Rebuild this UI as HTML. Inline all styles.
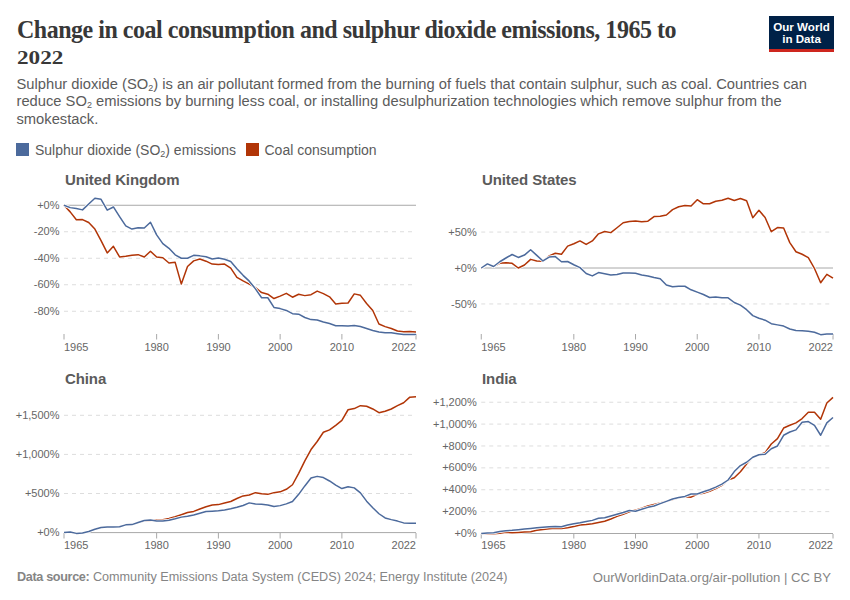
<!DOCTYPE html>
<html><head><meta charset="utf-8">
<style>
html,body{margin:0;padding:0;background:#fff;width:850px;height:600px;overflow:hidden}
body{position:relative;font-family:"Liberation Sans",sans-serif}
.title{position:absolute;left:17px;top:17px;font-family:"Liberation Serif",serif;font-weight:bold;font-size:25.5px;line-height:25px;color:#383838;letter-spacing:-0.5px;margin:0;width:800px;transform:scaleX(0.94);transform-origin:0 0}
.sub{position:absolute;left:16.5px;top:75.5px;font-size:14.72px;line-height:17.9px;color:#5b5b5b;width:820px}
.sub sub{font-size:9px;vertical-align:-2px;line-height:0}
.leg{position:absolute;top:142px;left:0;font-size:14px;color:#5b5b5b;line-height:16px}
.sw{position:absolute;width:13.3px;height:13.3px;top:1px}
.lt{position:absolute;top:0;white-space:nowrap}
.logo{position:absolute;left:769px;top:16px;width:65px;height:33px;background:#002147;border-bottom:3px solid #ce261e;color:#fff;font-weight:bold;font-size:11.6px;line-height:12px;text-align:center}
.foot{position:absolute;top:570px;font-size:12.55px;color:#858585;white-space:nowrap;line-height:15px}
svg{position:absolute;left:0;top:0}
.ct{font-family:"Liberation Sans",sans-serif;font-weight:bold;font-size:15px;fill:#5b5b5b;letter-spacing:-0.1px}
.yl{font-family:"Liberation Sans",sans-serif;font-size:11px;fill:#666;text-anchor:end}
.xl{font-family:"Liberation Sans",sans-serif;font-size:11px;fill:#666}
.gl{stroke:#ddd;stroke-width:1;stroke-dasharray:4 4}
.zl{stroke:#a8a8a8;stroke-width:1}
.tk{stroke:#a8a8a8;stroke-width:1}
.ln{fill:none;stroke-width:1.5;stroke-linejoin:round;stroke-linecap:butt}
.halo{stroke-width:3}
</style></head><body>
<svg width="850" height="600" viewBox="0 0 850 600">
<text x="65" y="184.8" class="ct">United Kingdom</text>
<line x1="64" x2="416" y1="205.25" y2="205.25" class="zl"/>
<text x="59.5" y="208.85" class="yl">+0%</text>
<line x1="64" x2="416" y1="231.75" y2="231.75" class="gl"/>
<text x="59.5" y="235.35" class="yl">-20%</text>
<line x1="64" x2="416" y1="258.25" y2="258.25" class="gl"/>
<text x="59.5" y="261.85" class="yl">-40%</text>
<line x1="64" x2="416" y1="284.75" y2="284.75" class="gl"/>
<text x="59.5" y="288.35" class="yl">-60%</text>
<line x1="64" x2="416" y1="311.25" y2="311.25" class="gl"/>
<text x="59.5" y="314.85" class="yl">-80%</text>
<line x1="64.00" x2="64.00" y1="334" y2="339.5" class="tk"/>
<text x="64.00" y="350.5" class="xl" text-anchor="start">1965</text>
<line x1="156.63" x2="156.63" y1="334" y2="339.5" class="tk"/>
<text x="156.63" y="350.5" class="xl" text-anchor="middle">1980</text>
<line x1="218.39" x2="218.39" y1="334" y2="339.5" class="tk"/>
<text x="218.39" y="350.5" class="xl" text-anchor="middle">1990</text>
<line x1="280.14" x2="280.14" y1="334" y2="339.5" class="tk"/>
<text x="280.14" y="350.5" class="xl" text-anchor="middle">2000</text>
<line x1="341.89" x2="341.89" y1="334" y2="339.5" class="tk"/>
<text x="341.89" y="350.5" class="xl" text-anchor="middle">2010</text>
<line x1="416.00" x2="416.00" y1="334" y2="339.5" class="tk"/>
<text x="416.00" y="350.5" class="xl" text-anchor="end">2022</text>
<polyline points="64.00,205.25 70.18,211.88 76.35,219.82 82.53,219.56 88.70,222.47 94.88,229.10 101.05,240.63 107.23,252.95 113.40,246.32 119.58,256.93 125.75,256.26 131.93,255.20 138.11,254.67 144.28,257.06 150.46,251.23 156.63,257.06 162.81,257.72 168.98,263.02 175.16,262.36 181.33,284.09 187.51,266.47 193.68,260.90 199.86,259.05 206.04,261.17 212.21,264.08 218.39,264.61 224.56,264.08 230.74,268.19 236.91,277.33 243.09,280.91 249.26,284.09 255.44,287.67 261.61,292.57 267.79,294.16 273.96,298.53 280.14,296.14 286.32,293.36 292.49,297.20 298.67,294.29 304.84,295.62 311.02,294.69 317.19,291.11 323.37,293.63 329.54,296.81 335.72,303.96 341.89,303.17 348.07,303.03 354.25,293.89 360.42,295.35 366.60,303.43 372.77,310.45 378.95,323.97 385.12,326.62 391.30,328.48 397.47,330.99 403.65,331.79 409.82,331.52 416.00,331.92" stroke="#fff" class="ln halo"/>
<polyline points="64.00,205.25 70.18,211.88 76.35,219.82 82.53,219.56 88.70,222.47 94.88,229.10 101.05,240.63 107.23,252.95 113.40,246.32 119.58,256.93 125.75,256.26 131.93,255.20 138.11,254.67 144.28,257.06 150.46,251.23 156.63,257.06 162.81,257.72 168.98,263.02 175.16,262.36 181.33,284.09 187.51,266.47 193.68,260.90 199.86,259.05 206.04,261.17 212.21,264.08 218.39,264.61 224.56,264.08 230.74,268.19 236.91,277.33 243.09,280.91 249.26,284.09 255.44,287.67 261.61,292.57 267.79,294.16 273.96,298.53 280.14,296.14 286.32,293.36 292.49,297.20 298.67,294.29 304.84,295.62 311.02,294.69 317.19,291.11 323.37,293.63 329.54,296.81 335.72,303.96 341.89,303.17 348.07,303.03 354.25,293.89 360.42,295.35 366.60,303.43 372.77,310.45 378.95,323.97 385.12,326.62 391.30,328.48 397.47,330.99 403.65,331.79 409.82,331.52 416.00,331.92" stroke="#b13507" class="ln"/>
<polyline points="64.00,205.25 70.18,207.63 76.35,208.56 82.53,209.89 88.70,203.93 94.88,198.23 101.05,199.29 107.23,210.15 113.40,206.97 119.58,216.65 125.75,225.92 131.93,229.10 138.11,227.78 144.28,228.04 150.46,222.21 156.63,234.93 162.81,243.68 168.98,248.31 175.16,254.81 181.33,258.25 187.51,258.25 193.68,255.33 199.86,255.87 206.04,256.79 212.21,259.05 218.39,257.99 224.56,259.31 230.74,261.56 236.91,268.85 243.09,275.34 249.26,281.17 255.44,288.86 261.61,297.74 267.79,297.74 273.96,307.41 280.14,308.60 286.32,310.45 292.49,313.63 298.67,314.17 304.84,317.48 311.02,319.60 317.19,320.00 323.37,321.98 329.54,323.57 335.72,325.69 341.89,325.69 348.07,326.09 354.25,325.56 360.42,326.49 366.60,328.48 372.77,330.46 378.95,331.92 385.12,332.85 391.30,332.72 397.47,333.64 403.65,334.57 409.82,334.57 416.00,334.57" stroke="#fff" class="ln halo"/>
<polyline points="64.00,205.25 70.18,207.63 76.35,208.56 82.53,209.89 88.70,203.93 94.88,198.23 101.05,199.29 107.23,210.15 113.40,206.97 119.58,216.65 125.75,225.92 131.93,229.10 138.11,227.78 144.28,228.04 150.46,222.21 156.63,234.93 162.81,243.68 168.98,248.31 175.16,254.81 181.33,258.25 187.51,258.25 193.68,255.33 199.86,255.87 206.04,256.79 212.21,259.05 218.39,257.99 224.56,259.31 230.74,261.56 236.91,268.85 243.09,275.34 249.26,281.17 255.44,288.86 261.61,297.74 267.79,297.74 273.96,307.41 280.14,308.60 286.32,310.45 292.49,313.63 298.67,314.17 304.84,317.48 311.02,319.60 317.19,320.00 323.37,321.98 329.54,323.57 335.72,325.69 341.89,325.69 348.07,326.09 354.25,325.56 360.42,326.49 366.60,328.48 372.77,330.46 378.95,331.92 385.12,332.85 391.30,332.72 397.47,333.64 403.65,334.57 409.82,334.57 416.00,334.57" stroke="#4c6a9c" class="ln"/>
<text x="482" y="184.8" class="ct">United States</text>
<line x1="481.25" x2="833" y1="232.05" y2="232.05" class="gl"/>
<text x="476.75" y="235.65" class="yl">+50%</text>
<line x1="481.25" x2="833" y1="268.00" y2="268.00" class="zl"/>
<text x="476.75" y="271.60" class="yl">+0%</text>
<line x1="481.25" x2="833" y1="303.95" y2="303.95" class="gl"/>
<text x="476.75" y="307.55" class="yl">-50%</text>
<line x1="481.25" x2="481.25" y1="334" y2="339.5" class="tk"/>
<text x="481.25" y="350.5" class="xl" text-anchor="start">1965</text>
<line x1="573.82" x2="573.82" y1="334" y2="339.5" class="tk"/>
<text x="573.82" y="350.5" class="xl" text-anchor="middle">1980</text>
<line x1="635.53" x2="635.53" y1="334" y2="339.5" class="tk"/>
<text x="635.53" y="350.5" class="xl" text-anchor="middle">1990</text>
<line x1="697.24" x2="697.24" y1="334" y2="339.5" class="tk"/>
<text x="697.24" y="350.5" class="xl" text-anchor="middle">2000</text>
<line x1="758.95" x2="758.95" y1="334" y2="339.5" class="tk"/>
<text x="758.95" y="350.5" class="xl" text-anchor="middle">2010</text>
<line x1="833.00" x2="833.00" y1="334" y2="339.5" class="tk"/>
<text x="833.00" y="350.5" class="xl" text-anchor="end">2022</text>
<polyline points="481.25,268.00 487.42,263.90 493.59,266.49 499.76,263.33 505.93,262.68 512.11,263.33 518.28,268.00 524.45,265.05 530.62,259.37 536.79,260.95 542.96,261.31 549.13,255.85 555.30,253.26 561.47,254.27 567.64,246.14 573.82,243.77 579.99,240.89 586.16,244.42 592.33,240.89 598.50,233.85 604.67,231.47 610.84,232.63 617.01,227.74 623.18,222.77 629.36,221.55 635.53,220.91 641.70,221.84 647.87,221.19 654.04,216.59 660.21,216.16 666.38,215.01 672.55,209.69 678.72,206.74 684.89,205.59 691.07,205.95 697.24,199.69 703.41,203.79 709.58,203.79 715.75,201.20 721.92,200.27 728.09,198.26 734.26,200.49 740.43,198.54 746.61,200.77 752.78,217.67 758.95,210.34 765.12,217.53 771.29,231.69 777.46,227.52 783.63,228.02 789.80,242.62 795.97,251.75 802.14,254.27 808.32,257.65 814.49,268.50 820.66,282.74 826.83,274.33 833.00,278.21" stroke="#fff" class="ln halo"/>
<polyline points="481.25,268.00 487.42,263.90 493.59,266.49 499.76,263.33 505.93,262.68 512.11,263.33 518.28,268.00 524.45,265.05 530.62,259.37 536.79,260.95 542.96,261.31 549.13,255.85 555.30,253.26 561.47,254.27 567.64,246.14 573.82,243.77 579.99,240.89 586.16,244.42 592.33,240.89 598.50,233.85 604.67,231.47 610.84,232.63 617.01,227.74 623.18,222.77 629.36,221.55 635.53,220.91 641.70,221.84 647.87,221.19 654.04,216.59 660.21,216.16 666.38,215.01 672.55,209.69 678.72,206.74 684.89,205.59 691.07,205.95 697.24,199.69 703.41,203.79 709.58,203.79 715.75,201.20 721.92,200.27 728.09,198.26 734.26,200.49 740.43,198.54 746.61,200.77 752.78,217.67 758.95,210.34 765.12,217.53 771.29,231.69 777.46,227.52 783.63,228.02 789.80,242.62 795.97,251.75 802.14,254.27 808.32,257.65 814.49,268.50 820.66,282.74 826.83,274.33 833.00,278.21" stroke="#b13507" class="ln"/>
<polyline points="481.25,268.00 487.42,263.90 493.59,266.49 499.76,261.74 505.93,258.01 512.11,254.48 518.28,257.43 524.45,255.06 530.62,249.74 536.79,255.42 542.96,260.95 549.13,257.07 555.30,256.57 561.47,261.74 567.64,261.53 573.82,264.76 579.99,267.64 586.16,273.54 592.33,275.91 598.50,272.60 604.67,273.75 610.84,274.97 617.01,274.47 623.18,272.96 629.36,272.96 635.53,273.32 641.70,274.97 647.87,275.91 654.04,277.49 660.21,278.71 666.38,284.97 672.55,286.84 678.72,286.26 684.89,286.26 691.07,289.79 697.24,292.16 703.41,294.53 709.58,297.48 715.75,296.90 721.92,297.84 728.09,297.84 734.26,302.51 740.43,305.10 746.61,309.70 752.78,315.60 758.95,318.19 765.12,320.20 771.29,323.72 777.46,324.87 783.63,326.10 789.80,329.04 795.97,330.41 802.14,330.77 808.32,331.34 814.49,332.28 820.66,334.65 826.83,334.08 833.00,334.08" stroke="#fff" class="ln halo"/>
<polyline points="481.25,268.00 487.42,263.90 493.59,266.49 499.76,261.74 505.93,258.01 512.11,254.48 518.28,257.43 524.45,255.06 530.62,249.74 536.79,255.42 542.96,260.95 549.13,257.07 555.30,256.57 561.47,261.74 567.64,261.53 573.82,264.76 579.99,267.64 586.16,273.54 592.33,275.91 598.50,272.60 604.67,273.75 610.84,274.97 617.01,274.47 623.18,272.96 629.36,272.96 635.53,273.32 641.70,274.97 647.87,275.91 654.04,277.49 660.21,278.71 666.38,284.97 672.55,286.84 678.72,286.26 684.89,286.26 691.07,289.79 697.24,292.16 703.41,294.53 709.58,297.48 715.75,296.90 721.92,297.84 728.09,297.84 734.26,302.51 740.43,305.10 746.61,309.70 752.78,315.60 758.95,318.19 765.12,320.20 771.29,323.72 777.46,324.87 783.63,326.10 789.80,329.04 795.97,330.41 802.14,330.77 808.32,331.34 814.49,332.28 820.66,334.65 826.83,334.08 833.00,334.08" stroke="#4c6a9c" class="ln"/>
<text x="65" y="383.6" class="ct">China</text>
<line x1="64" x2="416" y1="532.60" y2="532.60" class="zl"/>
<text x="59.5" y="536.20" class="yl">+0%</text>
<line x1="64" x2="416" y1="493.50" y2="493.50" class="gl"/>
<text x="59.5" y="497.10" class="yl">+500%</text>
<line x1="64" x2="416" y1="454.40" y2="454.40" class="gl"/>
<text x="59.5" y="458.00" class="yl">+1,000%</text>
<line x1="64" x2="416" y1="415.30" y2="415.30" class="gl"/>
<text x="59.5" y="418.90" class="yl">+1,500%</text>
<line x1="64.00" x2="64.00" y1="533" y2="538.5" class="tk"/>
<text x="64.00" y="549.3" class="xl" text-anchor="start">1965</text>
<line x1="156.63" x2="156.63" y1="533" y2="538.5" class="tk"/>
<text x="156.63" y="549.3" class="xl" text-anchor="middle">1980</text>
<line x1="218.39" x2="218.39" y1="533" y2="538.5" class="tk"/>
<text x="218.39" y="549.3" class="xl" text-anchor="middle">1990</text>
<line x1="280.14" x2="280.14" y1="533" y2="538.5" class="tk"/>
<text x="280.14" y="549.3" class="xl" text-anchor="middle">2000</text>
<line x1="341.89" x2="341.89" y1="533" y2="538.5" class="tk"/>
<text x="341.89" y="549.3" class="xl" text-anchor="middle">2010</text>
<line x1="416.00" x2="416.00" y1="533" y2="538.5" class="tk"/>
<text x="416.00" y="549.3" class="xl" text-anchor="end">2022</text>
<polyline points="64.00,532.60 70.18,531.90 76.35,533.38 82.53,533.07 88.70,531.43 94.88,529.32 101.05,527.52 107.23,526.97 113.40,526.97 119.58,526.74 125.75,524.86 131.93,524.62 138.11,522.51 144.28,521.03 150.46,520.48 156.63,519.93 162.81,519.70 168.98,518.52 175.16,516.73 181.33,514.69 187.51,512.58 193.68,511.41 199.86,509.06 206.04,506.72 212.21,505.00 218.39,504.60 224.56,502.96 230.74,501.48 236.91,498.50 243.09,495.92 249.26,495.06 255.44,492.64 261.61,493.81 267.79,494.36 273.96,492.64 280.14,491.86 286.32,489.28 292.49,484.74 298.67,473.32 304.84,460.81 311.02,449.55 317.19,441.50 323.37,432.27 329.54,429.85 335.72,425.31 341.89,420.38 348.07,409.75 354.25,408.57 360.42,405.68 366.60,406.23 372.77,408.97 378.95,412.72 385.12,411.31 391.30,408.97 397.47,405.68 403.65,402.71 409.82,397.16 416.00,396.84" stroke="#fff" class="ln halo"/>
<polyline points="64.00,532.60 70.18,531.90 76.35,533.38 82.53,533.07 88.70,531.43 94.88,529.32 101.05,527.52 107.23,526.97 113.40,526.97 119.58,526.74 125.75,524.86 131.93,524.62 138.11,522.51 144.28,521.03 150.46,520.48 156.63,519.93 162.81,519.70 168.98,518.52 175.16,516.73 181.33,514.69 187.51,512.58 193.68,511.41 199.86,509.06 206.04,506.72 212.21,505.00 218.39,504.60 224.56,502.96 230.74,501.48 236.91,498.50 243.09,495.92 249.26,495.06 255.44,492.64 261.61,493.81 267.79,494.36 273.96,492.64 280.14,491.86 286.32,489.28 292.49,484.74 298.67,473.32 304.84,460.81 311.02,449.55 317.19,441.50 323.37,432.27 329.54,429.85 335.72,425.31 341.89,420.38 348.07,409.75 354.25,408.57 360.42,405.68 366.60,406.23 372.77,408.97 378.95,412.72 385.12,411.31 391.30,408.97 397.47,405.68 403.65,402.71 409.82,397.16 416.00,396.84" stroke="#b13507" class="ln"/>
<polyline points="64.00,532.60 70.18,531.90 76.35,533.38 82.53,533.07 88.70,531.43 94.88,529.32 101.05,527.52 107.23,526.97 113.40,526.97 119.58,526.74 125.75,524.86 131.93,524.62 138.11,522.51 144.28,520.48 150.46,519.93 156.63,521.10 162.81,521.10 168.98,520.24 175.16,518.76 181.33,517.12 187.51,516.18 193.68,514.93 199.86,513.21 206.04,511.41 212.21,511.17 218.39,510.86 224.56,510.00 230.74,508.83 236.91,507.34 243.09,505.54 249.26,502.88 255.44,503.90 261.61,504.37 267.79,504.92 273.96,506.56 280.14,505.62 286.32,503.90 292.49,501.55 298.67,494.36 304.84,485.91 311.02,478.09 317.19,476.37 323.37,477.55 329.54,480.99 335.72,485.05 341.89,488.57 348.07,486.70 354.25,487.87 360.42,492.87 366.60,501.16 372.77,507.81 378.95,513.75 385.12,517.98 391.30,519.62 397.47,521.10 403.65,522.90 409.82,523.14 416.00,523.14" stroke="#fff" class="ln halo"/>
<polyline points="64.00,532.60 70.18,531.90 76.35,533.38 82.53,533.07 88.70,531.43 94.88,529.32 101.05,527.52 107.23,526.97 113.40,526.97 119.58,526.74 125.75,524.86 131.93,524.62 138.11,522.51 144.28,520.48 150.46,519.93 156.63,521.10 162.81,521.10 168.98,520.24 175.16,518.76 181.33,517.12 187.51,516.18 193.68,514.93 199.86,513.21 206.04,511.41 212.21,511.17 218.39,510.86 224.56,510.00 230.74,508.83 236.91,507.34 243.09,505.54 249.26,502.88 255.44,503.90 261.61,504.37 267.79,504.92 273.96,506.56 280.14,505.62 286.32,503.90 292.49,501.55 298.67,494.36 304.84,485.91 311.02,478.09 317.19,476.37 323.37,477.55 329.54,480.99 335.72,485.05 341.89,488.57 348.07,486.70 354.25,487.87 360.42,492.87 366.60,501.16 372.77,507.81 378.95,513.75 385.12,517.98 391.30,519.62 397.47,521.10 403.65,522.90 409.82,523.14 416.00,523.14" stroke="#4c6a9c" class="ln"/>
<text x="482" y="383.6" class="ct">India</text>
<line x1="481.25" x2="833" y1="533.50" y2="533.50" class="zl"/>
<text x="476.75" y="537.10" class="yl">+0%</text>
<line x1="481.25" x2="833" y1="511.62" y2="511.62" class="gl"/>
<text x="476.75" y="515.22" class="yl">+200%</text>
<line x1="481.25" x2="833" y1="489.74" y2="489.74" class="gl"/>
<text x="476.75" y="493.34" class="yl">+400%</text>
<line x1="481.25" x2="833" y1="467.86" y2="467.86" class="gl"/>
<text x="476.75" y="471.46" class="yl">+600%</text>
<line x1="481.25" x2="833" y1="445.98" y2="445.98" class="gl"/>
<text x="476.75" y="449.58" class="yl">+800%</text>
<line x1="481.25" x2="833" y1="424.10" y2="424.10" class="gl"/>
<text x="476.75" y="427.70" class="yl">+1,000%</text>
<line x1="481.25" x2="833" y1="402.22" y2="402.22" class="gl"/>
<text x="476.75" y="405.82" class="yl">+1,200%</text>
<line x1="481.25" x2="481.25" y1="534" y2="538.5" class="tk"/>
<text x="481.25" y="549.3" class="xl" text-anchor="start">1965</text>
<line x1="573.82" x2="573.82" y1="534" y2="538.5" class="tk"/>
<text x="573.82" y="549.3" class="xl" text-anchor="middle">1980</text>
<line x1="635.53" x2="635.53" y1="534" y2="538.5" class="tk"/>
<text x="635.53" y="549.3" class="xl" text-anchor="middle">1990</text>
<line x1="697.24" x2="697.24" y1="534" y2="538.5" class="tk"/>
<text x="697.24" y="549.3" class="xl" text-anchor="middle">2000</text>
<line x1="758.95" x2="758.95" y1="534" y2="538.5" class="tk"/>
<text x="758.95" y="549.3" class="xl" text-anchor="middle">2010</text>
<line x1="833.00" x2="833.00" y1="534" y2="538.5" class="tk"/>
<text x="833.00" y="549.3" class="xl" text-anchor="end">2022</text>
<polyline points="481.25,533.50 487.42,533.83 493.59,533.83 499.76,533.17 505.93,532.30 512.11,532.73 518.28,532.41 524.45,531.97 530.62,531.75 536.79,530.33 542.96,529.45 549.13,528.80 555.30,528.25 561.47,528.47 567.64,527.70 573.82,526.61 579.99,525.08 586.16,524.53 592.33,523.65 598.50,522.45 604.67,521.25 610.84,518.95 617.01,516.32 623.18,514.25 629.36,511.84 635.53,510.09 641.70,508.12 647.87,505.93 654.04,504.51 660.21,503.09 666.38,501.23 672.55,499.59 678.72,497.84 684.89,496.63 691.07,497.18 697.24,494.23 703.41,493.24 709.58,491.27 715.75,488.54 721.92,485.36 728.09,480.00 734.26,477.71 740.43,471.80 746.61,464.03 752.78,457.25 758.95,454.84 765.12,452.65 771.29,444.01 777.46,438.65 783.63,428.04 789.80,425.30 795.97,422.90 802.14,418.52 808.32,412.28 814.49,412.28 820.66,419.18 826.83,402.99 833.00,397.41" stroke="#fff" class="ln halo"/>
<polyline points="481.25,533.50 487.42,533.83 493.59,533.83 499.76,533.17 505.93,532.30 512.11,532.73 518.28,532.41 524.45,531.97 530.62,531.75 536.79,530.33 542.96,529.45 549.13,528.80 555.30,528.25 561.47,528.47 567.64,527.70 573.82,526.61 579.99,525.08 586.16,524.53 592.33,523.65 598.50,522.45 604.67,521.25 610.84,518.95 617.01,516.32 623.18,514.25 629.36,511.84 635.53,510.09 641.70,508.12 647.87,505.93 654.04,504.51 660.21,503.09 666.38,501.23 672.55,499.59 678.72,497.84 684.89,496.63 691.07,497.18 697.24,494.23 703.41,493.24 709.58,491.27 715.75,488.54 721.92,485.36 728.09,480.00 734.26,477.71 740.43,471.80 746.61,464.03 752.78,457.25 758.95,454.84 765.12,452.65 771.29,444.01 777.46,438.65 783.63,428.04 789.80,425.30 795.97,422.90 802.14,418.52 808.32,412.28 814.49,412.28 820.66,419.18 826.83,402.99 833.00,397.41" stroke="#b13507" class="ln"/>
<polyline points="481.25,533.50 487.42,532.95 493.59,532.73 499.76,531.53 505.93,530.76 512.11,530.33 518.28,529.67 524.45,529.01 530.62,528.47 536.79,527.81 542.96,527.26 549.13,526.83 555.30,526.39 561.47,526.83 567.64,524.97 573.82,523.65 579.99,522.67 586.16,521.47 592.33,520.37 598.50,518.29 604.67,517.75 610.84,516.00 617.01,514.25 623.18,512.50 629.36,510.42 635.53,511.29 641.70,509.21 647.87,507.35 654.04,505.93 660.21,503.63 666.38,501.34 672.55,498.93 678.72,497.51 684.89,496.41 691.07,494.01 697.24,494.01 703.41,491.82 709.58,489.74 715.75,487.11 721.92,484.16 728.09,480.00 734.26,471.58 740.43,465.56 746.61,462.28 752.78,457.25 758.95,454.73 765.12,454.29 771.29,448.72 777.46,445.98 783.63,435.26 789.80,431.98 795.97,429.90 802.14,422.24 808.32,421.58 814.49,425.30 820.66,435.26 826.83,422.90 833.00,417.54" stroke="#fff" class="ln halo"/>
<polyline points="481.25,533.50 487.42,532.95 493.59,532.73 499.76,531.53 505.93,530.76 512.11,530.33 518.28,529.67 524.45,529.01 530.62,528.47 536.79,527.81 542.96,527.26 549.13,526.83 555.30,526.39 561.47,526.83 567.64,524.97 573.82,523.65 579.99,522.67 586.16,521.47 592.33,520.37 598.50,518.29 604.67,517.75 610.84,516.00 617.01,514.25 623.18,512.50 629.36,510.42 635.53,511.29 641.70,509.21 647.87,507.35 654.04,505.93 660.21,503.63 666.38,501.34 672.55,498.93 678.72,497.51 684.89,496.41 691.07,494.01 697.24,494.01 703.41,491.82 709.58,489.74 715.75,487.11 721.92,484.16 728.09,480.00 734.26,471.58 740.43,465.56 746.61,462.28 752.78,457.25 758.95,454.73 765.12,454.29 771.29,448.72 777.46,445.98 783.63,435.26 789.80,431.98 795.97,429.90 802.14,422.24 808.32,421.58 814.49,425.30 820.66,435.26 826.83,422.90 833.00,417.54" stroke="#4c6a9c" class="ln"/>
</svg>
<div class="title">Change in coal consumption and sulphur dioxide emissions, 1965 to<br><span style="display:inline-block;font-size:19px;transform:scaleX(1.3) translateY(1px);transform-origin:0 0;letter-spacing:0">2022</span></div>
<div class="sub">Sulphur dioxide (SO<sub>2</sub>) is an air pollutant formed from the burning of fuels that contain sulphur, such as coal. Countries can reduce SO<sub>2</sub> emissions by burning less coal, or installing desulphurization technologies which remove sulphur from the smokestack.</div>
<div class="leg">
<div class="sw" style="left:16px;background:#4c6a9c"></div><div class="lt" style="left:35px">Sulphur dioxide (SO<sub style="font-size:9px;vertical-align:-2px;line-height:0">2</sub>) emissions</div>
<div class="sw" style="left:245.5px;background:#b13507"></div><div class="lt" style="left:264.5px">Coal consumption</div>
</div>
<div class="logo"><div style="padding-top:5px">Our World</div><div>in Data</div></div>
<div class="foot" style="left:17px;font-size:12.65px"><b style="letter-spacing:-0.35px">Data source:</b> Community Emissions Data System (CEDS) 2024; Energy Institute (2024)</div>
<div class="foot" style="right:19px;font-size:13.1px">OurWorldinData.org/air-pollution | CC BY</div>
</body></html>
